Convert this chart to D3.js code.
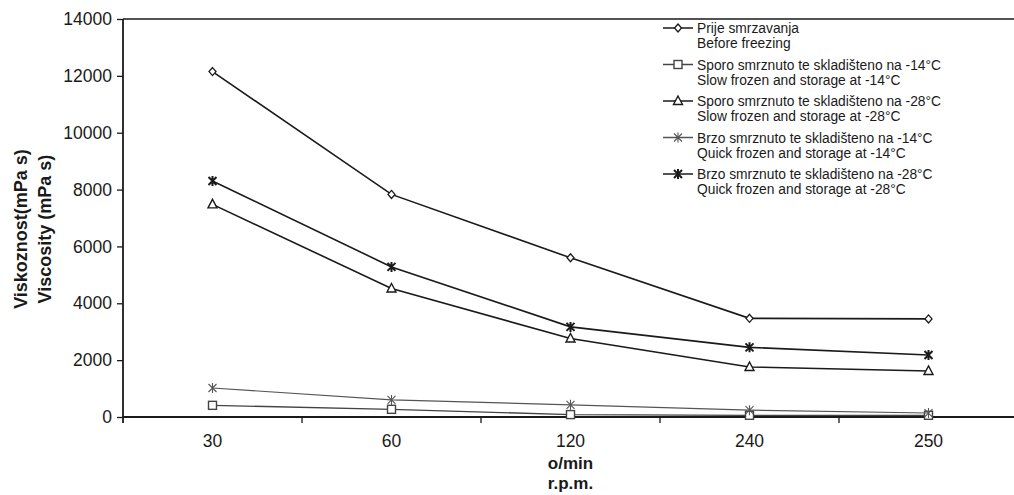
<!DOCTYPE html>
<meta charset="utf-8">
<style>
	body {
		margin: 0;
		background: #fff;
	}
	svg text {
		font-family: "Liberation Sans", Arial, sans-serif;
		fill: #1a1a1a;
	}
	.tick text {
		font-size: 17.5px;
	}
	.legend text {
		font-size: 13.8px;
	}
	.axisTitle {
		font-size: 18px;
		font-weight: bold;
	}
	.xTitle {
		font-size: 17px;
		font-weight: bold;
	}
</style>
<body>
	<svg></svg>
</body>
<script src="https://cdn.jsdelivr.net/npm/d3@7"></script>
<script>

	// x categories (o/min)
	var rpm = ["30", "60", "120", "240", "250"];

	// viscosity, mPa s
	var beforeFreezing = [12150, 7830, 5600, 3470, 3450];
	var slow14 = [410, 270, 85, 60, 60];
	var slow28 = [7480, 4520, 2760, 1760, 1620];
	var quick14 = [1020, 600, 430, 240, 140];
	var quick28 = [8300, 5280, 3170, 2450, 2180];

	var yTicks = [0, 2000, 4000, 6000, 8000, 10000, 12000, 14000];

	var legendLabels = [
		["Prije smrzavanja", "Before freezing"],
		["Sporo smrznuto te skladišteno na -14°C", "Slow frozen and storage at -14°C"],
		["Sporo smrznuto te skladišteno na -28°C", "Slow frozen and storage at -28°C"],
		["Brzo smrznuto te skladišteno na -14°C", "Quick frozen and storage at -14°C"],
		["Brzo smrznuto te skladišteno na -28°C", "Quick frozen and storage at -28°C"]
	];

	var series = [
		{ values: beforeFreezing, marker: "diamond", width: 1.6, color: "#1a1a1a" },
		{ values: slow14, marker: "square", width: 1.3, color: "#444" },
		{ values: slow28, marker: "triangle", width: 1.6, color: "#1a1a1a" },
		{ values: quick14, marker: "crossThin", width: 1.2, color: "#555" },
		{ values: quick28, marker: "crossBold", width: 1.6, color: "#1a1a1a" }
	];

	var plotLeft = 123, plotTop = 19, plotBottom = 417, plotRight = 1018;

	var svg = d3.select("svg")
		.attr("width", 1014)
		.attr("height", 495);

	var x = d3.scaleBand()
		.domain(rpm)
		.range([plotLeft, plotRight]);

	var y = d3.scaleLinear()
		.domain([0, 14000])
		.range([plotBottom, plotTop]);

	// top frame line
	svg.append("line")
		.attr("x1", plotLeft).attr("x2", 1014)
		.attr("y1", plotTop).attr("y2", plotTop)
		.attr("stroke", "#1a1a1a")
		.attr("stroke-width", 1.6);

	// y axis
	var yAxis = svg.append("g")
		.attr("transform", "translate(" + plotLeft + ",0)")
		.call(d3.axisLeft(y).tickValues(yTicks).tickSize(6).tickPadding(5).tickFormat(d3.format("d")));
	yAxis.select(".domain").remove();
	yAxis.selectAll(".tick line").attr("stroke", "#1a1a1a").attr("stroke-width", 1.3);
	svg.append("line")
		.attr("x1", plotLeft).attr("x2", plotLeft)
		.attr("y1", plotTop).attr("y2", plotBottom + 6)
		.attr("stroke", "#1a1a1a")
		.attr("stroke-width", 1.8);

	// x axis: ticks sit between the categories
	var xAxis = svg.append("g")
		.attr("transform", "translate(0," + plotBottom + ")")
		.call(d3.axisBottom(x).tickSize(0).tickPadding(18));
	xAxis.select(".domain").remove();
	xAxis.selectAll(".tick text").attr("dy", "0.71em");

	svg.append("line")
		.attr("x1", plotLeft).attr("x2", 1014)
		.attr("y1", plotBottom).attr("y2", plotBottom)
		.attr("stroke", "#1a1a1a")
		.attr("stroke-width", 1.8);

	svg.selectAll(".sep")
		.data(rpm.slice(1))
		.enter()
		.append("line")
		.attr("class", "sep")
		.attr("x1", function (d) { return x(d); })
		.attr("x2", function (d) { return x(d); })
		.attr("y1", plotBottom)
		.attr("y2", plotBottom + 6)
		.attr("stroke", "#1a1a1a")
		.attr("stroke-width", 1.3);

	// axis titles
	var yTitle = svg.append("text")
		.attr("class", "axisTitle")
		.attr("transform", "translate(0," + 229 + ") rotate(-90)")
		.attr("text-anchor", "middle");
	yTitle.append("tspan").attr("x", 0).attr("y", 27).text("Viskoznost(mPa s)");
	yTitle.append("tspan").attr("x", 0).attr("y", 51).text("Viscosity (mPa s)");

	var cx = x("120") + x.bandwidth() / 2;
	svg.append("text").attr("class", "xTitle")
		.attr("x", cx).attr("y", 469).attr("text-anchor", "middle").text("o/min");
	svg.append("text").attr("class", "xTitle")
		.attr("x", cx).attr("y", 489).attr("text-anchor", "middle").text("r.p.m.");

	function px(i) { return x(rpm[i]) + x.bandwidth() / 2; }

	function drawMarker(g, type, mx, my, color) {
		if (type == "diamond") {
			g.append("path")
				.attr("d", "M" + mx + "," + (my - 4) + "L" + (mx + 3.5) + "," + my + "L" + mx + "," + (my + 4) + "L" + (mx - 3.5) + "," + my + "Z")
				.attr("fill", "#fff").attr("stroke", color).attr("stroke-width", 1.3);
		} else if (type == "square") {
			g.append("rect")
				.attr("x", mx - 4).attr("y", my - 4).attr("width", 8).attr("height", 8)
				.attr("fill", "#fff").attr("stroke", color).attr("stroke-width", 1.4);
		} else if (type == "triangle") {
			g.append("path")
				.attr("d", "M" + mx + "," + (my - 5) + "L" + (mx + 4.5) + "," + (my + 3.5) + "L" + (mx - 4.5) + "," + (my + 3.5) + "Z")
				.attr("fill", "#fff").attr("stroke", color).attr("stroke-width", 1.4);
		} else {
			var w = type == "crossBold" ? 2 : 1.1;
			g.append("path")
				.attr("d", "M" + (mx - 4) + "," + (my - 4) + "L" + (mx + 4) + "," + (my + 4) +
					"M" + (mx - 4) + "," + (my + 4) + "L" + (mx + 4) + "," + (my - 4) +
					"M" + mx + "," + (my - 5) + "L" + mx + "," + (my + 5))
				.attr("fill", "none").attr("stroke", color).attr("stroke-width", w);
		}
	}

	var line = d3.line()
		.x(function (d, i) { return px(i); })
		.y(function (d) { return y(d); });

	series.forEach(function (s) {
		var g = svg.append("g");
		g.append("path")
			.datum(s.values)
			.attr("d", line)
			.attr("fill", "none")
			.attr("stroke", s.color)
			.attr("stroke-width", s.width);
		s.values.forEach(function (v, i) {
			drawMarker(g, s.marker, px(i), y(v), s.color);
		});
	});

	// legend
	var legend = svg.append("g").attr("class", "legend");
	legendLabels.forEach(function (lab, i) {
		var ly = 28 + i * 36.5;
		var s = series[i];
		legend.append("line")
			.attr("x1", 663).attr("x2", 693)
			.attr("y1", ly).attr("y2", ly)
			.attr("stroke", s.color)
			.attr("stroke-width", 1.5);
		drawMarker(legend, s.marker, 678, ly, s.color);
		legend.append("text")
			.attr("x", 697).attr("y", ly + 5)
			.text(lab[0]);
		legend.append("text")
			.attr("x", 697).attr("y", ly + 20)
			.text(lab[1]);
	});

</script>
